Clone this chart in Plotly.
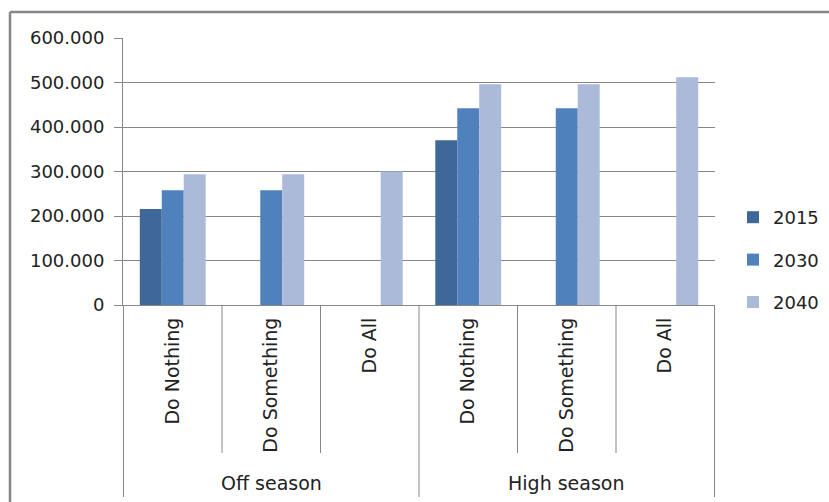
import plotly.graph_objects as go

# Scenario categories (outer: season, inner: measure package)
seasons = ["Off season", "Off season", "Off season",
           "High season", "High season", "High season"]
measures = ["Do Nothing", "Do Something", "Do All",
            "Do Nothing", "Do Something", "Do All"]

# Values per year (None = scenario not modelled for that year)
years = ["2015", "2030", "2040"]
values_2015 = [216000, None, None, 370000, None, None]
values_2030 = [258000, 258000, None, 442000, 442000, None]
values_2040 = [294000, 294000, 300000, 496000, 496000, 512000]

y_ticks = [0, 100000, 200000, 300000, 400000, 500000, 600000]

colors = ["#3F6898", "#4F81BD", "#AABAD8"]
grid = "#878787"
font = "DejaVu Sans"
text_color = "#222222"

W, H = 829, 502
L, R, T, B = 123, 114, 38, 197
plot_w = W - L - R
plot_h = H - T - B


def px_to_paper_x(px):
    return (px - L) / plot_w


def px_to_paper_y(py):
    return (H - B - py) / plot_h


keys = [f"{s} · {m}" for s, m in zip(seasons, measures)]

fig = go.Figure()
for year, vals, col in zip(years, [values_2015, values_2030, values_2040], colors):
    fig.add_trace(go.Bar(
        x=keys, y=vals, name=year,
        marker=dict(color=col, line=dict(width=0)),
        legendgroup=year,
    ))

shapes = []
# category dividers below the axis: short between measures, long between seasons
for i in range(len(keys) + 1):
    pos = i - 0.5
    long_line = i % 3 == 0
    shapes.append(dict(
        type="line", xref="x", yref="paper",
        x0=pos, x1=pos,
        y0=0, y1=px_to_paper_y(497 if long_line else 453),
        line=dict(color=grid, width=1),
    ))

# outer chart frame
frame_x = px_to_paper_x(10)
frame_y = px_to_paper_y(12)
shapes.append(dict(type="line", xref="paper", yref="paper",
                   x0=frame_x, x1=frame_x, y0=frame_y, y1=px_to_paper_y(520),
                   line=dict(color="#868686", width=2.5)))
shapes.append(dict(type="line", xref="paper", yref="paper",
                   x0=frame_x, x1=px_to_paper_x(850), y0=frame_y, y1=frame_y,
                   line=dict(color="#868686", width=2.5)))

annotations = []
for idx, season in [(1, seasons[1]), (4, seasons[4])]:
    annotations.append(dict(
        x=keys[idx], xref="x", y=px_to_paper_y(483), yref="paper",
        text=season, showarrow=False, yanchor="middle", xanchor="center",
        font=dict(family=font, size=19, color=text_color),
    ))

fig.update_layout(
    template="none",
    width=W, height=H,
    margin=dict(l=L, r=R, t=T, b=B, pad=0, autoexpand=False),
    paper_bgcolor="white", plot_bgcolor="white",
    separators=",.",
    barmode="group", bargap=0.331, bargroupgap=0,
    font=dict(family=font, size=18, color=text_color),
    showlegend=True,
    legend=dict(
        x=px_to_paper_x(733), xanchor="left",
        y=px_to_paper_y(260), yanchor="middle",
        font=dict(family=font, size=18, color=text_color),
        tracegroupgap=16, bgcolor="rgba(0,0,0,0)",
    ),
    xaxis=dict(
        type="category",
        tickvals=keys, ticktext=measures,
        tickangle=-90, ticks="",
        showgrid=False, zeroline=False,
        showline=True, linecolor=grid, linewidth=1,
        tickfont=dict(family=font, size=19, color=text_color),
        ticklabelstandoff=4,
    ),
    yaxis=dict(
        range=[0, 600000], tickvals=y_ticks, tickformat=",d",
        showgrid=True, gridcolor=grid, gridwidth=1,
        zeroline=False,
        showline=True, linecolor=grid, linewidth=1,
        ticks="outside", ticklen=8, tickcolor=grid, tickwidth=1,
        tickfont=dict(family=font, size=18, color=text_color),
        ticklabelstandoff=6,
    ),
    shapes=shapes,
    annotations=annotations,
)

fig.write_html("out.html")
